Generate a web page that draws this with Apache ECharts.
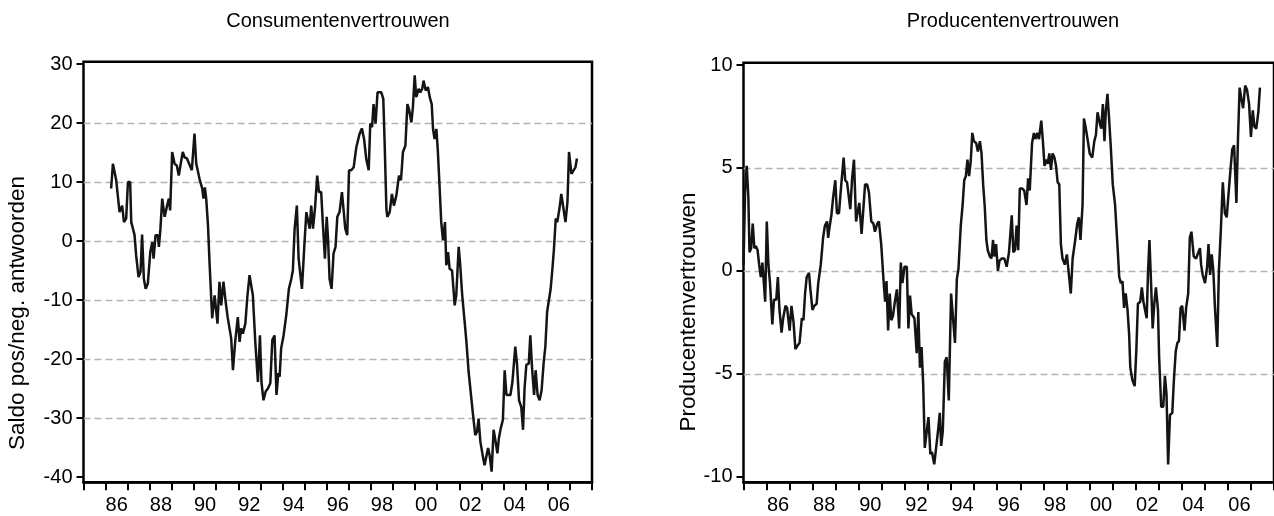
<!DOCTYPE html>
<html>
<head>
<meta charset="utf-8">
<script src="https://cdn.jsdelivr.net/npm/echarts@6/dist/echarts.min.js"></script>
<style>
html,body{margin:0;padding:0;background:#fff;}
#c{width:1274px;height:516px;}
</style>
</head>
<body>
<div id="c"></div>
<script>
// ---- Data ----
const years = ['1985','1986','1987','1988','1989','1990','1991','1992','1993','1994','1995','1996','1997','1998','1999','2000','2001','2002','2003','2004','2005','2006','2007'];
const yearLabels = ['','86','','88','','90','','92','','94','','96','','98','','00','','02','','04','','06',''];
const leftTicks = [-40,-30,-20,-10,0,10,20,30];
const rightTicks = [-10,-5,0,5,10];

const consumerT = [
1986.25,1986.33,1986.48,1986.63,1986.75,1986.83,1986.93,1987.01,1987.11,1987.16,1987.31,1987.38,1987.49,1987.58,1987.65,1987.73,1987.81,1987.91,
1988.02,1988.11,1988.17,1988.26,1988.36,1988.41,1988.48,1988.56,1988.67,1988.77,1988.86,1988.92,1989.01,1989.12,1989.22,1989.31,1989.42,1989.49,1989.57,1989.68,1989.77,1989.90,
1990.02,1990.10,1990.25,1990.37,1990.43,1990.49,1990.55,1990.63,1990.70,1990.82,1990.93,1991.00,1991.06,1991.15,1991.23,1991.33,1991.43,1991.52,1991.61,1991.68,1991.76,1991.86,1991.98,
1992.06,1992.13,1992.21,1992.32,1992.41,1992.51,1992.66,1992.77,1992.89,1992.98,1993.05,1993.14,1993.24,1993.34,1993.45,1993.54,1993.64,1993.73,1993.81,1993.87,1993.94,
1994.05,1994.17,1994.29,1994.40,1994.47,1994.55,1994.65,1994.73,1994.82,1994.88,1994.99,1995.08,1995.15,1995.23,1995.30,1995.38,1995.47,1995.57,1995.65,1995.75,1995.83,1995.92,
1996.00,1996.06,1996.13,1996.22,1996.31,1996.40,1996.48,1996.58,1996.69,1996.77,1996.84,1996.93,1997.01,1997.11,1997.22,1997.34,
1997.41,1997.49,1997.59,1997.69,1997.79,1997.90,1997.97,1998.05,1998.12,1998.21,1998.30,1998.47,1998.56,1998.62,1998.70,1998.74,1998.85,1998.95,
1999.04,1999.15,1999.27,1999.36,1999.45,1999.56,1999.65,1999.72,1999.83,1999.90,1999.98,2000.05,2000.16,2000.23,2000.32,2000.38,2000.48,2000.58,2000.66,2000.75,2000.81,2000.88,2000.96,
2001.03,2001.11,2001.18,2001.26,2001.35,2001.41,2001.49,2001.56,2001.67,2001.79,2001.86,2001.97,2002.04,2002.13,2002.24,2002.32,2002.42,2002.51,2002.62,2002.72,2002.80,2002.87,2002.95,
2003.04,2003.14,2003.22,2003.30,2003.37,2003.46,2003.55,2003.64,2003.72,2003.79,2003.87,2003.97,2004.05,2004.13,2004.31,2004.40,2004.53,2004.61,2004.70,2004.80,2004.88,2004.95,
2005.03,2005.14,2005.21,2005.29,2005.38,2005.45,2005.54,2005.63,2005.72,2005.81,2005.89,2005.97,2006.06,2006.13,2006.21,2006.28,2006.36,2006.43,2006.54,2006.61,2006.69,2006.80,2006.89,2006.96,
2007.07,2007.14,2007.25,2007.32
];
const consumerV = [
8.9,13.1,10.3,4.9,6.0,3.2,3.8,10.0,10.0,3.2,1.0,-2.4,-6.1,-5.2,1.1,-6.4,-8.1,-7.2,
-1.9,-0.2,-3.0,1.0,1.0,-1.0,2.1,7.2,4.1,5.8,7.2,5.2,15.1,13.1,12.8,11.1,13.6,15.1,14.2,14.0,13.9,12.0,
18.2,13.1,10.5,8.9,7.2,9.1,7.2,2.7,-3.6,-13.1,-9.2,-8.9,-14.0,-6.9,-10.9,-6.9,-10.3,-12.9,-13.1,-16.5,-21.9,-17.1,-12.9,
-17.1,-14.8,-15.7,-14.0,-9.5,-5.8,-9.2,-17.1,-23.9,-16.0,-23.9,-27.0,-25.5,-25.0,-24.1,-16.8,-16.0,-26.1,-22.4,-23.0,-18.2,
-16.0,-12.6,-8.1,-6.4,-5.0,2.1,6.0,-3.0,-3.3,-8.1,-0.7,4.9,4.9,2.1,6.0,2.1,5.5,11.1,8.3,8.3,2.7,-3.0,
4.1,0.4,-6.4,-8.1,-2.1,-1.0,4.1,4.9,8.3,8.3,2.1,1.0,12.0,12.0,12.5,15.9,
16.2,18.2,19.1,17.3,13.9,12.0,19.9,19.3,23.2,19.9,25.2,25.2,24.1,16.8,5.5,4.1,4.9,8.0,
6.0,7.7,11.1,10.3,15.1,16.2,23.2,22.4,20.1,22.7,28.1,24.4,25.8,25.2,25.8,27.2,25.5,26.1,24.4,23.2,19.0,17.3,19.0,
15.1,8.9,3.2,0.1,3.2,-4.1,-1.9,-4.7,-5.0,-10.9,-9.2,-1.0,-4.1,-9.2,-13.7,-17.1,-22.2,-25.5,-29.5,-32.9,-32.3,-30.1,-34.0,
-36.0,-38.0,-38.0,-35.1,-36.3,-39.1,-32.0,-34.0,-36.0,-33.4,-31.8,-30.3,-21.9,-26.1,-26.1,-23.9,-17.9,-21.0,-27.0,-28.1,-32.0,-25.0,
-21.0,-20.8,-16.0,-21.6,-26.1,-21.9,-26.1,-27.0,-25.3,-20.8,-17.9,-12.0,-11.9,-8.1,-4.7,-1.3,3.8,3.2,5.8,8.0,6.0,3.2,6.6,15.1,
11.4,11.1,12.5,14.0
];

const producerT = [
1985.00,1985.07,1985.14,1985.21,1985.26,1985.33,1985.40,1985.47,1985.54,1985.61,1985.68,1985.75,1985.82,1985.94,
1986.01,1986.08,1986.15,1986.25,1986.32,1986.42,1986.49,1986.56,1986.65,1986.72,1986.82,1986.89,
1987.00,1987.08,1987.17,1987.25,1987.36,1987.43,1987.53,1987.60,1987.67,1987.74,1987.84,1987.90,1987.99,
1988.07,1988.17,1988.24,1988.35,1988.45,1988.53,1988.62,1988.67,1988.74,1988.81,1988.89,1988.98,
1989.05,1989.14,1989.24,1989.34,1989.41,1989.49,1989.56,1989.63,1989.71,1989.79,1989.88,1989.95,
1990.02,1990.12,1990.19,1990.27,1990.36,1990.44,1990.54,1990.63,1990.70,1990.80,1990.87,1990.97,
1991.08,1991.14,1991.20,1991.27,1991.34,1991.41,1991.48,1991.55,1991.65,1991.75,1991.82,1991.89,1991.98,
1992.08,1992.15,1992.22,1992.29,1992.41,1992.51,1992.58,1992.65,1992.72,1992.79,1992.86,1992.93,
1993.02,1993.10,1993.17,1993.27,1993.36,1993.44,1993.51,1993.57,1993.64,1993.73,1993.81,1993.90,
1994.00,1994.07,1994.17,1994.25,1994.32,1994.42,1994.50,1994.57,1994.64,1994.71,1994.78,1994.85,1994.92,1994.99,
1995.09,1995.16,1995.25,1995.32,1995.39,1995.46,1995.53,1995.59,1995.68,1995.75,1995.82,1995.87,1995.95,
1996.03,1996.10,1996.20,1996.31,1996.41,1996.51,1996.63,1996.70,1996.77,1996.84,1996.91,1996.98,
1997.08,1997.17,1997.27,1997.34,1997.41,1997.51,1997.59,1997.65,1997.74,1997.81,1997.91,1997.98,
1998.05,1998.12,1998.19,1998.26,1998.33,1998.40,1998.48,1998.55,1998.62,1998.69,1998.76,1998.83,1998.93,
1999.02,1999.10,1999.19,1999.27,1999.37,1999.47,1999.54,1999.61,1999.70,1999.76,1999.83,1999.93,
2000.01,2000.12,2000.21,2000.28,2000.35,2000.44,2000.51,2000.58,2000.65,2000.71,2000.78,2000.85,2000.92,
2001.01,2001.11,2001.21,2001.29,2001.36,2001.43,2001.50,2001.57,2001.65,2001.72,2001.77,2001.86,2001.96,
2002.03,2002.10,2002.20,2002.27,2002.34,2002.41,2002.48,2002.54,2002.60,2002.67,2002.74,2002.81,2002.88,2002.97,
2003.02,2003.11,2003.20,2003.27,2003.34,2003.41,2003.49,2003.59,2003.66,2003.74,2003.81,2003.88,2003.95,
2004.02,2004.12,2004.19,2004.28,2004.35,2004.42,2004.52,2004.62,2004.70,2004.79,2004.84,2004.91,
2005.01,2005.10,2005.16,2005.23,2005.30,2005.37,2005.44,2005.54,2005.61,2005.70,2005.78,2005.87,2005.95,
2006.04,2006.12,2006.19,2006.27,2006.37,2006.44,2006.51,2006.58,2006.66,2006.75,2006.83,2006.92,
2007.00,2007.08,2007.15,2007.23,2007.32,2007.39
];
const producerV = [
0.3,3.9,5.1,3.6,0.9,1.1,2.3,1.1,1.2,1.0,0.3,-0.3,0.4,-1.5,
2.4,0.3,-0.6,-2.6,-1.4,-1.4,-0.3,-1.9,-3.0,-2.3,-1.7,-1.8,
-2.9,-1.7,-2.5,-3.8,-3.6,-3.5,-2.3,-2.4,-1.1,-0.3,-0.1,-0.9,-1.9,
-1.7,-1.6,-0.6,0.3,1.6,2.2,2.4,1.6,2.2,2.7,3.6,4.4,
2.8,2.8,4.2,5.5,4.4,4.3,4.3,3.0,4.5,5.4,2.4,2.4,
3.3,1.8,2.9,4.2,4.2,3.8,2.4,2.3,1.9,2.3,2.4,1.3,
-0.6,-1.5,-0.5,-2.9,-1.1,-2.4,-2.2,-1.6,-0.9,-2.8,0.4,-0.6,0.2,
0.2,-2.8,-1.2,-2.1,-2.3,-4.0,-2.0,-4.7,-3.7,-5.5,-8.6,-8.6,
-7.1,-8.9,-8.8,-9.4,-8.5,-7.7,-6.9,-8.5,-7.8,-4.4,-4.2,-6.3,
-1.1,-2.1,-3.5,-0.4,0.1,2.2,3.2,4.4,4.6,5.4,4.6,5.3,6.7,6.3,
6.2,5.8,6.3,5.7,4.2,3.1,1.5,1.0,0.7,0.6,1.5,0.7,1.3,
0.0,0.5,0.6,0.6,0.2,0.9,2.7,0.9,1.0,2.2,1.0,4.0,
4.0,3.9,3.2,4.5,3.9,6.2,6.7,6.4,6.7,6.4,7.3,6.3,
5.1,5.4,5.2,5.7,4.9,5.7,5.5,5.1,4.3,4.2,1.3,0.6,0.3,
0.8,0.8,-1.1,0.6,1.4,2.3,2.6,1.5,3.2,7.4,7.0,6.3,
5.7,5.5,6.3,6.6,7.7,7.2,6.9,8.1,6.3,7.8,8.6,7.4,6.1,
4.2,3.2,1.3,-0.3,-0.6,-0.5,-1.8,-1.1,-1.9,-3.1,-4.7,-5.3,-5.6,
-3.9,-1.6,-1.5,-0.8,-1.5,-1.5,-2.3,0.0,1.5,-0.6,-2.8,-1.6,-0.8,-1.9,
-4.2,-6.6,-6.6,-5.1,-6.0,-9.4,-7.0,-6.9,-5.3,-3.9,-3.5,-3.4,-1.8,
-1.7,-2.9,-1.8,-1.1,1.6,1.9,0.7,0.6,0.6,1.1,0.3,-0.2,
-0.6,0.2,1.3,-0.2,0.8,0.0,-1.8,-3.7,0.0,2.1,4.3,2.8,2.6,
3.9,5.0,5.9,6.1,3.3,6.5,8.9,8.4,7.9,9.0,8.8,8.1,
6.5,7.8,7.0,6.9,7.7,8.9
];

// axis ranges (frame extents)
const leftRange = [-40.9, 30.4];
const rightRange = [-10.27, 10.11];
const timeRange = [1985, 2008];

// ---- Chart ----
const FONT = '"Liberation Sans", Arial, Helvetica, sans-serif';
const chart = echarts.init(document.getElementById('c'), null, {renderer: 'canvas'});

function catAxis(gridIndex) {
  return {
    type: 'category', gridIndex, data: years, boundaryGap: true, position: 'bottom',
    axisLine: {show: true, onZero: false, lineStyle: {color: '#000', width: 2.5}},
    axisTick: {show: true, interval: 0, length: 8, inside: false, lineStyle: {color: '#000', width: 2}},
    axisLabel: {interval: 0, margin: 13, fontSize: 20, color: '#000', fontFamily: FONT,
      formatter: (v, i) => yearLabels[i]},
    splitLine: {show: false}
  };
}
function hiddenX(gridIndex, range) {
  const o = {type: 'value', gridIndex, show: false, splitLine: {show: false}, axisLine: {onZero: false}};
  if (range) { o.min = range[0]; o.max = range[1]; }
  return o;
}
function tickY(gridIndex, ticks) {
  return {
    type: 'value', gridIndex, min: ticks[0], max: ticks[ticks.length - 1],
    interval: ticks[1] - ticks[0], position: 'left',
    axisLine: {show: false, onZero: false},
    axisTick: {show: true, length: 7, inside: false, lineStyle: {color: '#000', width: 2}},
    axisLabel: {margin: 11, fontSize: 20, color: '#000', fontFamily: FONT},
    splitLine: {show: true, showMinLine: false, showMaxLine: false,
      lineStyle: {color: '#b3b3b3', width: 1.4, type: [7, 4]}}
  };
}
function frameY(gridIndex, range) {
  return {type: 'value', gridIndex, min: range[0], max: range[1], show: false,
    axisLine: {onZero: false}, splitLine: {show: false}};
}

const option = {
  animation: false,
  backgroundColor: '#fff',
  grid: [
    {left: 83.5, top: 61.7, width: 508.5, height: 420.6, show: true, borderColor: '#000', borderWidth: 2.5, backgroundColor: 'transparent'},
    {left: 83.5, top: 64.0, width: 508.5, height: 413.0},
    {left: 743.5, top: 62.7, width: 539.4, height: 419.6, show: true, borderColor: '#000', borderWidth: 2.5, backgroundColor: 'transparent'},
    {left: 743.5, top: 65.0, width: 539.4, height: 411.8}
  ],
  xAxis: [
    catAxis(0), hiddenX(0, timeRange), hiddenX(1),
    catAxis(2), hiddenX(2, timeRange), hiddenX(3)
  ],
  yAxis: [
    frameY(0, leftRange), tickY(1, leftTicks),
    frameY(2, rightRange), tickY(3, rightTicks)
  ],
  series: [
    {type: 'line', xAxisIndex: 1, yAxisIndex: 0, showSymbol: false, z: 5,
     data: consumerT.map((t, i) => [t, consumerV[i]]),
     lineStyle: {color: '#141414', width: 2.5}},
    {type: 'line', xAxisIndex: 4, yAxisIndex: 2, showSymbol: false, z: 5,
     data: producerT.map((t, i) => [t, producerV[i]]),
     lineStyle: {color: '#141414', width: 2.5}}
  ],
  graphic: [
    {type: 'text', x: 338, y: 21, style: {text: 'Consumentenvertrouwen', fontSize: 20, fontFamily: FONT, fill: '#000', align: 'center', verticalAlign: 'middle'}},
    {type: 'text', x: 1013, y: 21, style: {text: 'Producentenvertrouwen', fontSize: 20, fontFamily: FONT, fill: '#000', align: 'center', verticalAlign: 'middle'}},
    {type: 'text', x: 18, y: 313, rotation: Math.PI / 2, style: {text: 'Saldo pos/neg. antwoorden', fontSize: 22.5, fontFamily: FONT, fill: '#000', align: 'center', verticalAlign: 'middle'}},
    {type: 'text', x: 689, y: 312, rotation: Math.PI / 2, style: {text: 'Producentenvertrouwen', fontSize: 22.5, fontFamily: FONT, fill: '#000', align: 'center', verticalAlign: 'middle'}}
  ]
};
chart.setOption(option);
</script>
</body>
</html>
